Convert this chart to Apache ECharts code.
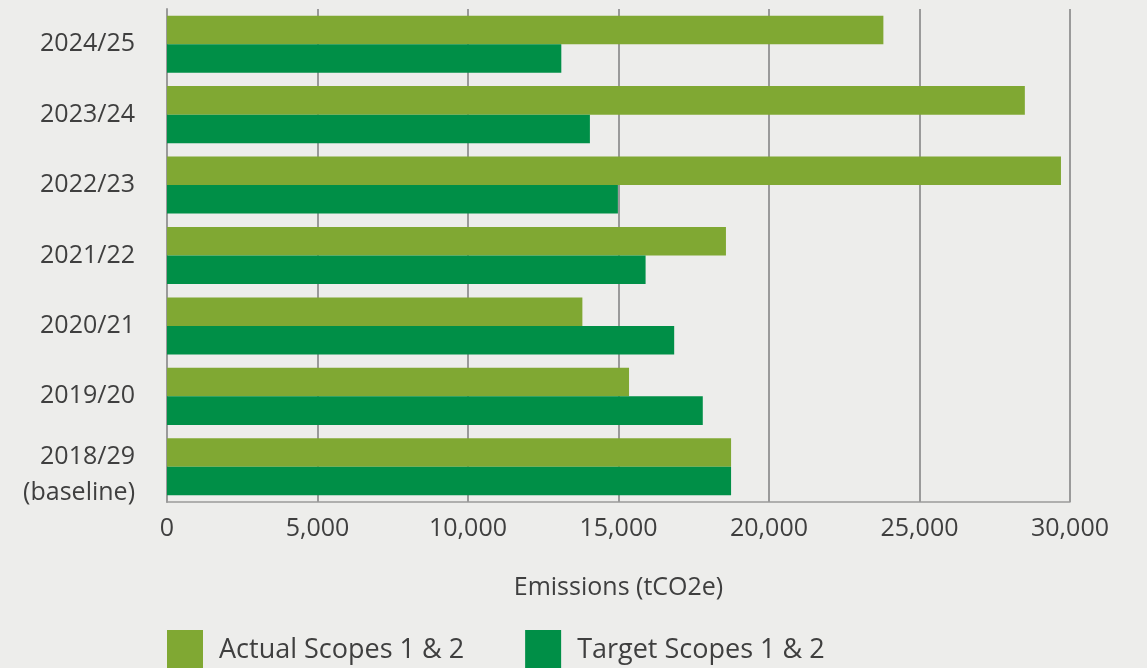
<!DOCTYPE html>
<html>
<head>
<meta charset="utf-8">
<style>
  html, body { margin: 0; padding: 0; background: #ededeb; }
  #chart { width: 1147px; height: 668px; }
</style>
<script src="https://cdn.jsdelivr.net/npm/echarts@6/dist/echarts.min.js"></script>
</head>
<body>
<div id="chart"></div>
<script>
// Reporting years, listed from the bottom of the axis upwards
const years = ['2018/29\n(baseline)', '2019/20', '2020/21', '2021/22', '2022/23', '2023/24', '2024/25'];
// Emissions in tCO2e
const actualScopes = [18740, 15350, 13800, 18570, 29700, 28500, 23800];
const targetScopes = [18740, 17800, 16850, 15900, 14980, 14050, 13100];
const xTicks = { min: 0, max: 30000, interval: 5000 };
const seriesNames = ['Actual Scopes 1 & 2', 'Target Scopes 1 & 2'];

const fontFamily = '"Open Sans", "Noto Sans", sans-serif';
const textColor = '#3f3f3f';
const gridGray = '#9a9a9a';
const labelFont = { fontSize: 25, color: textColor, fontFamily: fontFamily, lineHeight: 37 };

// Two-line labels are pushed slightly below their band centre
function yLabel(v) {
  const parts = v.split('\n');
  if (parts.length < 2) return v;
  return '{first|' + parts[0] + '}\n{rest|' + parts.slice(1).join('\n') + '}';
}

const chart = echarts.init(document.getElementById('chart'));
chart.setOption({
  backgroundColor: '#ededeb',
  animation: false,
  textStyle: { fontFamily: fontFamily, color: textColor },
  grid: { left: 167, right: 77, top: 9, bottom: 166, containLabel: false },
  legend: {
    data: seriesNames,
    left: 167,
    top: 630,
    padding: 0,
    itemWidth: 36,
    itemHeight: 40,
    itemGap: 61,
    icon: 'rect',
    textStyle: { fontSize: 27, color: textColor, fontFamily: fontFamily, padding: [0, 0, 0, 11] }
  },
  xAxis: {
    type: 'value',
    min: xTicks.min,
    max: xTicks.max,
    interval: xTicks.interval,
    name: 'Emissions (tCO2e)',
    nameLocation: 'middle',
    nameGap: 73,
    nameTextStyle: { fontSize: 25, color: textColor, fontFamily: fontFamily },
    axisLine: { show: true, lineStyle: { color: gridGray, width: 1.5 } },
    axisTick: { show: false },
    axisLabel: {
      fontSize: 25, color: textColor, fontFamily: fontFamily, margin: 14,
      formatter: v => v.toLocaleString('en-US')
    },
    splitLine: { show: true, lineStyle: { color: gridGray, width: 2 } }
  },
  yAxis: {
    type: 'category',
    data: years,
    axisLine: { show: true, lineStyle: { color: gridGray, width: 2 } },
    axisTick: { show: false },
    axisLabel: Object.assign({}, labelFont, {
      margin: 32,
      align: 'right',
      formatter: yLabel,
      rich: {
        first: Object.assign({}, labelFont, { padding: [18, 0, 0, 0] }),
        rest: Object.assign({}, labelFont, { padding: [16, 0, 0, 0] })
      }
    }),
    splitLine: { show: false }
  },
  series: [
    {
      name: seriesNames[0],
      type: 'bar',
      data: actualScopes,
      itemStyle: { color: '#80a833' },
      barGap: '0%',
      barCategoryGap: '19%'
    },
    {
      name: seriesNames[1],
      type: 'bar',
      data: targetScopes,
      itemStyle: { color: '#008f47' },
      barGap: '0%',
      barCategoryGap: '19%'
    }
  ]
});
</script>
</body>
</html>
